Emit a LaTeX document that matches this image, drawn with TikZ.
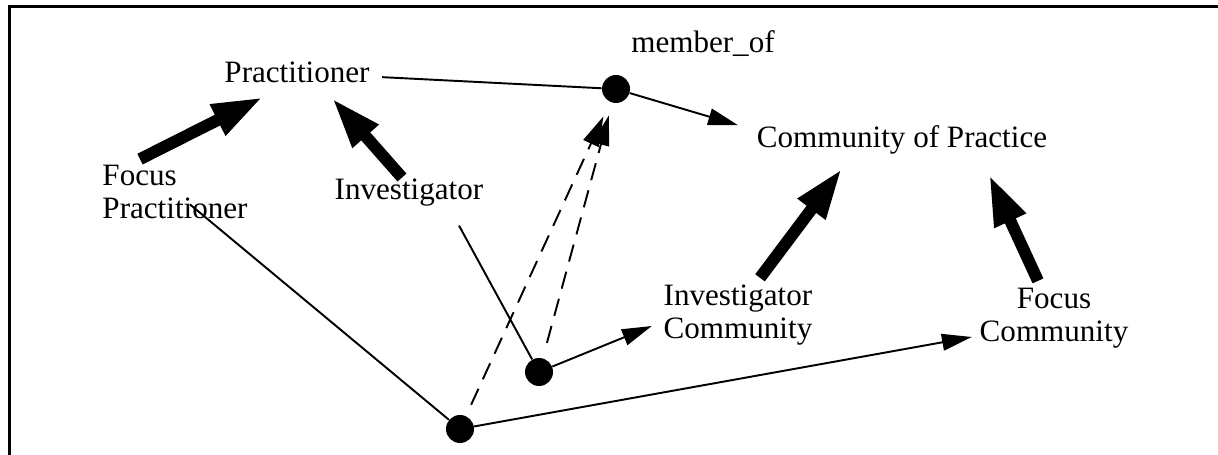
\documentclass[tikz,border=0pt]{standalone}
\usepackage{fontspec}
\setmainfont{Liberation Serif}
\usetikzlibrary{arrows.meta}

\tikzset{
  term/.style={inner sep=2pt},
  dot/.style={circle, fill, inner sep=0pt, minimum size=0.56cm},
  link/.style={line width=1.1pt},
  rel/.style={line width=1.1pt, -{Triangle[length=17pt,width=9.5pt]}},
  isa/.style={line width=6.8pt, -{Triangle[length=29pt,width=18pt]}},
}

\begin{document}
\begin{tikzpicture}[x=0.02cm, y=-0.02cm, font=\fontsize{17.7}{19}\selectfont]
	\useasboundingbox (0,0) rectangle (1218,455);
	\draw[line width=1.7pt] (9.5,455) -- (9.5,7) -- (1218,7);
	\node[term, anchor=base] (pract) at (297,83) {Practitioner};
	\node[term, anchor=base] (membof) at (703,53) {member\_of};
	\node[term, anchor=base] (cop) at (902,148) {Community of Practice};
	\node[term, anchor=base] (inv) at (409,200) {Investigator};
	\node[term, align=left] (fpract) at (175,192) {Focus\\Practitioner};
	\node[term, align=left] (invcomm) at (738,315) {Investigator\\Community};
	\node[term, align=center] (fcomm) at (1054,318) {Focus\\Community};
	\node[dot] (d0) at (616,89) {};
	\node[dot] (d1) at (539,372) {};
	\node[dot] (d2) at (460,429) {};
	\draw[link, shorten <=5pt] (pract) -- (d0);
	\draw[rel] (d0) -- ([shift={(-15,3)}]cop.north west);
	\draw[rel, dash pattern=on 10pt off 6pt, shorten <=7pt, shorten >=9pt] (d2) -- (d0);
	\draw[rel, dash pattern=on 10pt off 6pt, shorten <=9pt, shorten >=7.5pt] (d1) -- (d0);
	\draw[link, shorten <=11pt] (fpract.center) -- (d2);
	\draw[link] ([shift={(50,15)}]inv.south) -- (d1);
	\draw[rel] (d1) -- ([shift={(-8,11)}]invcomm.west);
	\draw[rel] (d2) -- ([shift={(-4,19)}]fcomm.west);
	\draw[isa] ([shift={(-35,-2)}]fpract.north) -- ([shift={(-34,10)}]pract.south);
	\draw[isa] ([shift={(-7,2)}]inv.north) -- ([shift={(35,11)}]pract.south);
	\draw[isa] ([shift={(22,-3)}]invcomm.north) -- ([shift={(-60,10)}]cop.south);
	\draw[isa] ([shift={(-16,-3)}]fcomm.north) -- ([shift={(87,16)}]cop.south);
\end{tikzpicture}
\end{document}
